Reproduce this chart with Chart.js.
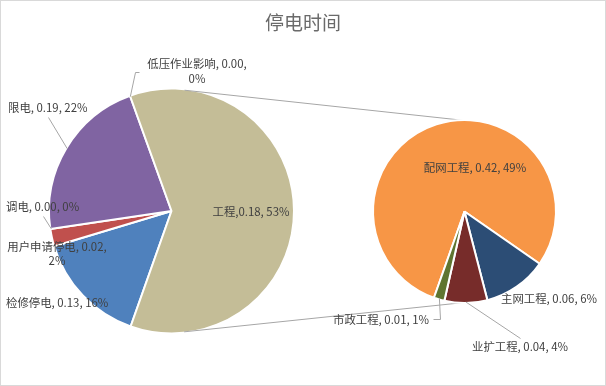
<!DOCTYPE html>
<html><head><meta charset="utf-8">
<script src="https://cdn.jsdelivr.net/npm/chart.js@4.4.1/dist/chart.umd.min.js"></script>
<style>
html,body{margin:0;padding:0;background:#fff;}
#wrap{position:relative;width:606px;height:386px;overflow:hidden;background:#fff;}
canvas{position:absolute;left:0;top:0;}
#title{position:absolute;left:0;top:12px;width:606px;text-align:center;font:19px/19px "Noto Sans CJK SC";color:#6a6a6a;}
#frame{position:absolute;left:0;top:0;width:606px;height:386px;box-sizing:border-box;border:1px solid #d9d9d9;pointer-events:none;}
</style></head><body>
<div id="wrap">
<canvas id="left" width="606" height="386"></canvas>
<canvas id="right" width="606" height="386"></canvas>
<div id="title">停电时间</div>
<div id="frame"></div>
</div>
<script>
// ---- data ----
const mainCategories = ['检修停电', '用户申请停电', '调电', '限电', '低压作业影响', '工程'];
const mainValues = [0.13, 0.02, 0.00, 0.19, 0.00];          // first five slices; 工程 = sum of sub pie
const mainLabelValues = ['0.13', '0.02', '0.00', '0.19', '0.00', '0.18'];
const mainPercents = ['16%', '2%', '0%', '22%', '0%', '53%'];
const subCategories = ['配网工程', '主网工程', '业扩工程', '市政工程'];
const subValues = [0.42, 0.06, 0.04, 0.01];
const subLabelValues = ['0.42', '0.06', '0.04', '0.01'];
const subPercents = ['49%', '6%', '4%', '1%'];

// ---- styles ----
const mainColors = ['#4F81BD', '#C0504D', '#9BBB59', '#8064A2', '#4BACC6', '#C4BD97'];
const subColors = ['#F79646', '#2C4D75', '#772C2A', '#5F7530'];
const LABEL_FONT = '11.4px "Noto Sans CJK SC"';
const LABEL_COLOR = '#404040';
const LINE_COLOR = '#a6a6a6';

const mainData = mainValues.concat([subValues.reduce((a, b) => a + b, 0)]);

// label layout (text anchor positions)
const mainLayout = [
  {x: 6, y: 303, align: 'left'},
  {x: 57, y: 247, align: 'center', wrap: true, lh: 14},
  {x: 6, y: 207, align: 'left', leader: [[43, 216]]},
  {x: 8, y: 108, align: 'left', leader: [[48, 117]]},
  {x: 197, y: 64, align: 'center', wrap: true, lh: 15, leader: [[135, 72], [139, 72]]},
  {x: 251, y: 212, align: 'center', sep: ','}
];
const subLayout = [
  {x: 475, y: 168, align: 'center'},
  {x: 549, y: 299, align: 'center'},
  {x: 520, y: 347, align: 'center', leader: [[520, 338]]},
  {x: 429, y: 320, align: 'right', leader: [[440, 319], [433, 319]]}
];

function labelPlugin(layout, names, vals, pcts) {
  return {
    id: 'dataLabels',
    afterDatasetsDraw(chart) {
      const ctx = chart.ctx;
      const arcs = chart.getDatasetMeta(0).data;
      ctx.save();
      layout.forEach((L, i) => {
        const a = arcs[i];
        if (L.leader && a) {
          const mid = (a.startAngle + a.endAngle) / 2;
          const r = a.outerRadius - 1;
          ctx.beginPath();
          ctx.moveTo(a.x + r * Math.cos(mid), a.y + r * Math.sin(mid));
          L.leader.forEach(p => ctx.lineTo(p[0] + 0.5, p[1] + 0.5));
          ctx.strokeStyle = LINE_COLOR;
          ctx.lineWidth = 1;
          ctx.stroke();
        }
        ctx.font = LABEL_FONT;
        ctx.fillStyle = LABEL_COLOR;
        ctx.textAlign = L.align;
        ctx.textBaseline = 'middle';
        const sep = L.sep || ', ';
        const lines = L.wrap
          ? [names[i] + ', ' + vals[i] + ',', pcts[i]]
          : [names[i] + sep + vals[i] + ', ' + pcts[i]];
        lines.forEach((t, k) => ctx.fillText(t, L.x, L.y + k * (L.lh || 14)));
      });
      ctx.restore();
    }
  };
}

const baseOptions = (rotation, radius, padding) => ({
  responsive: false,
  animation: false,
  rotation: rotation,
  radius: radius,
  layout: {padding: padding},
  plugins: {legend: {display: false}, tooltip: {enabled: false}, title: {display: false}}
});

const leftChart = new Chart(document.getElementById('left'), {
  type: 'pie',
  data: {
    labels: mainCategories,
    datasets: [{data: mainData, backgroundColor: mainColors, borderColor: '#ffffff', borderWidth: 2}]
  },
  options: baseOptions(199.5, 122.5, {left: 40, top: 90, right: 303, bottom: 54}),
  plugins: [labelPlugin(mainLayout, mainCategories, mainLabelValues, mainPercents)]
});

const connectorPlugin = {
  id: 'connectors',
  beforeDatasetsDraw(chart) {
    const A = leftChart.getDatasetMeta(0).data[5];
    const B = chart.getDatasetMeta(0).data[0];
    if (!A || !B) return;
    const r1 = A.outerRadius - 1, r2 = B.outerRadius - 1;
    const dx = B.x - A.x, dy = B.y - A.y;
    const d = Math.hypot(dx, dy);
    const ux = dx / d, uy = dy / d;
    const s = (r1 - r2) / d, c = Math.sqrt(1 - s * s);
    const px = -uy, py = ux;
    const ctx = chart.ctx;
    ctx.save();
    ctx.strokeStyle = LINE_COLOR;
    ctx.lineWidth = 1;
    [-1, 1].forEach(sg => {
      const nx = s * ux + sg * c * px, ny = s * uy + sg * c * py;
      ctx.beginPath();
      ctx.moveTo(A.x + r1 * nx, A.y + r1 * ny);
      ctx.lineTo(B.x + r2 * nx, B.y + r2 * ny);
      ctx.stroke();
    });
    ctx.restore();
  }
};

const rightChart = new Chart(document.getElementById('right'), {
  type: 'pie',
  data: {
    labels: subCategories,
    datasets: [{data: subValues, backgroundColor: subColors, borderColor: '#ffffff', borderWidth: 2}]
  },
  options: baseOptions(199.5, 91.5, {left: 374, top: 121, right: 51, bottom: 84}),
  plugins: [connectorPlugin, labelPlugin(subLayout, subCategories, subLabelValues, subPercents)]
});
</script>
</body></html>
